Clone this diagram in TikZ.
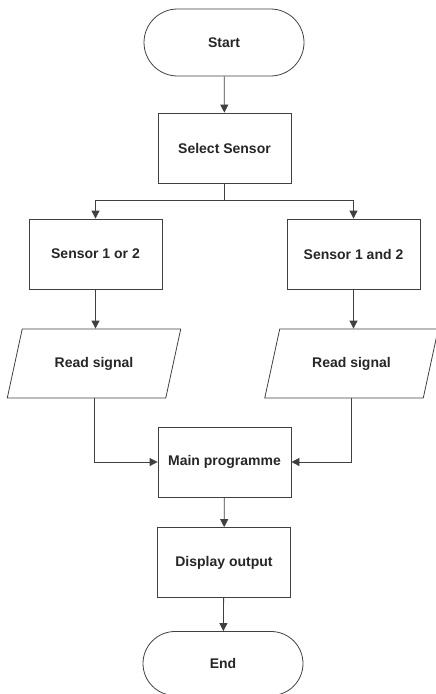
\documentclass[tikz,border=0pt]{standalone}
\usepackage{fontspec}
\setmainfont{Liberation Sans}
\usetikzlibrary{shapes.misc,shapes.geometric,arrows.meta}
\begin{document}
\begin{tikzpicture}[x=1pt,y=-1pt,
  base/.style={draw=black!75,line width=0.8pt,font=\bfseries\fontsize{14}{16}\selectfont,text=black!85,inner sep=0pt},
  term/.style={base,rounded rectangle,minimum width=160pt,minimum height=67pt},
  proc/.style={base,rectangle,minimum width=133pt,minimum height=70pt},
  io/.style={base,trapezium,trapezium left angle=58,trapezium right angle=122,trapezium stretches=true,minimum width=174pt,minimum height=69pt},
  conn/.style={draw=black!75,line width=0.8pt,-{Triangle[width=8pt,length=8pt]}},
  line/.style={draw=black!75,line width=0.8pt}]
\useasboundingbox (0,0) rectangle (436,694);
\node[term] (start) at (224,42.5) {Start};
\node[proc] (sel) at (224.5,148) {Select Sensor};
\node[proc] (s1) at (95.5,254) {Sensor 1 or 2};
\node[proc] (s2) at (353.5,254) {Sensor 1 and 2};
\node[io] (r1) at (94,363.5) {Read signal};
\node[io] (r2) at (351.5,363.5) {Read signal};
\node[proc] (main) at (224.5,462) {Main programme};
\node[proc] (disp) at (224,562.5) {Display output};
\node[term,minimum height=64pt] (end) at (223,663.5) {End};
\coordinate (br) at (224.5,200);
\draw[conn] (start) -- (sel);
\draw[line] (sel.south) -- (br);
\draw[conn] (br) -| (s1.north);
\draw[conn] (br) -| (s2.north);
\draw[conn] (s1.south) -- (s1.south |- r1.north);
\draw[conn] (s2.south) -- (s2.south |- r2.north);
\draw[conn] (r1.south) |- (main.west);
\draw[conn] (r2.south) |- (main.east);
\draw[conn] (main) -- (disp);
\draw[conn] (disp) -- (end);
\end{tikzpicture}
\end{document}
